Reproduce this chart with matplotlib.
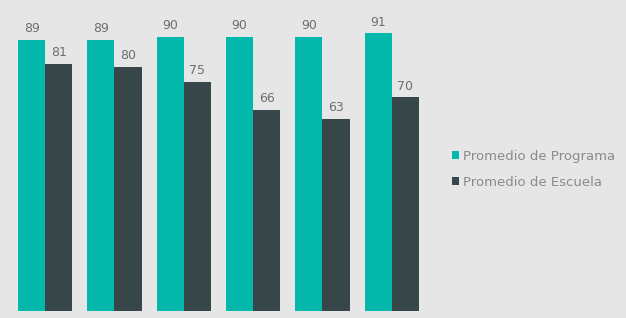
import matplotlib
matplotlib.use("Agg")
import matplotlib.pyplot as plt
import numpy as np

categories = ["1", "2", "3", "4", "5", "6"]
programa = [89, 89, 90, 90, 90, 91]
escuela = [81, 80, 75, 66, 63, 70]
series_names = ["Promedio de Programa", "Promedio de Escuela"]
colors = ["#01B8AA", "#374649"]

bg = "#E6E6E6"
fig = plt.figure(figsize=(6.26, 3.18), dpi=100, facecolor=bg)
ax = fig.add_axes([10.5/626, 7/318, 416/626, 305/318], facecolor=bg)

x = np.arange(len(categories))
w = 0.39
b1 = ax.bar(x - w/2, programa, w, color=colors[0], label=series_names[0])
b2 = ax.bar(x + w/2, escuela, w, color=colors[1], label=series_names[1])

for rect, v in list(zip(b1, programa)) + list(zip(b2, escuela)):
    ax.text(rect.get_x() + rect.get_width()/2, v + 1.6, str(v),
            ha="center", va="bottom", fontsize=9, color="#6e6e6e")

ax.set_xlim(-0.5, len(categories) - 0.5)
ax.set_ylim(0, 100)
ax.set_xticks([])
ax.set_yticks([])
for s in ax.spines.values():
    s.set_visible(False)

handles = [b1, b2]
leg = fig.legend(handles, series_names, loc="upper left",
                 bbox_to_anchor=(440/626, 1 - 138/318), frameon=False,
                 fontsize=9.5, labelcolor="#8a8a8a", handlelength=0.55,
                 handleheight=0.55, handletextpad=0.3, labelspacing=1.0)

fig.savefig("out.png", dpi=100, facecolor=bg)
